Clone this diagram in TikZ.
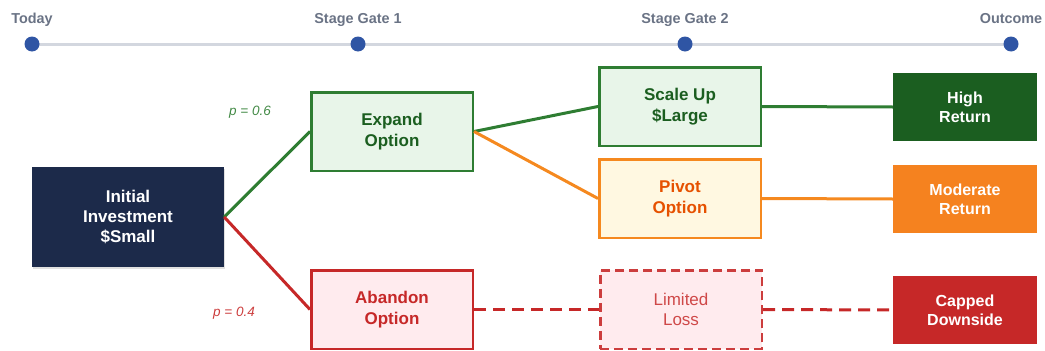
\documentclass[tikz,border=0pt]{standalone}
\usepackage{fontspec}
\setmainfont{Liberation Sans}

\definecolor{navy}{HTML}{1C2A4A}
\definecolor{gline}{HTML}{2E7D32}
\definecolor{gfill}{HTML}{E8F5E9}
\definecolor{gtext}{HTML}{1B5E20}
\definecolor{gdark}{HTML}{1B5E20}
\definecolor{oline}{HTML}{F5891F}
\definecolor{ofill}{HTML}{FFF8E1}
\definecolor{otext}{HTML}{E65100}
\definecolor{odark}{HTML}{F5821F}
\definecolor{rline}{HTML}{C62828}
\definecolor{rfill}{HTML}{FFEBEE}
\definecolor{rdark}{HTML}{C62828}
\definecolor{tdot}{HTML}{2F55A4}
\definecolor{tline}{HTML}{D3D7DF}
\definecolor{tlabel}{HTML}{6A7385}

\tikzset{
  x=1pt, y=-1pt,
  bigfont/.style={font=\bfseries\fontsize{17}{20.4}\selectfont},
  tldot/.style={circle, fill=tdot, minimum size=15pt, inner sep=0pt},
  tllabel/.style={anchor=base, text=tlabel, font=\bfseries\fontsize{14.4}{17}\selectfont},
  optbox/.style={rectangle, minimum width=161.5pt, minimum height=78.5pt,
    line width=2.5pt, align=center, inner sep=0pt, bigfont},
  greenbox/.style={optbox, draw=gline, fill=gfill, text=gtext},
  orangebox/.style={optbox, draw=oline, fill=ofill, text=otext},
  redbox/.style={optbox, draw=rline, fill=rfill, text=rline},
  lossbox/.style={optbox, draw=rline!90, fill=rfill, text=rline!85,
    dash pattern=on 9pt off 5pt, font=\fontsize{17}{20.4}\selectfont},
  outbox/.style={rectangle, minimum width=144pt, minimum height=68pt,
    align=center, inner sep=0pt, text=white,
    font=\bfseries\fontsize{16}{19.2}\selectfont},
  link/.style={line width=3pt},
  dashlink/.style={line width=3pt, draw=rline, dash pattern=on 12pt off 7pt},
  problabel/.style={font=\itshape\fontsize{13.5}{16}\selectfont},
}

\begin{document}
\begin{tikzpicture}
\useasboundingbox (0,0) rectangle (1045,351);

% timeline: gates along a grey rail
\coordinate (r0) at (32,44);
\coordinate (r3) at (1011,44);
\draw[tline, line width=3pt] (r0) -- (r3);
\node[tldot] (t0) at (32,44) {};
\node[tldot] (t1) at (358,44) {};
\node[tldot] (t2) at (685,44) {};
\node[tldot] (t3) at (1011,44) {};
\node[tllabel] (l0) at (32,23) {Today};
\node[tllabel] (l1) at (358,23) {Stage Gate 1};
\node[tllabel] (l2) at (685,23) {Stage Gate 2};
\node[tllabel] (l3) at (1011,23) {Outcome};

% initial investment, with a soft drop shadow
\fill[black, opacity=0.12] (33,169) rectangle (225,269);
\node[rectangle, fill=navy, text=white, minimum width=192pt, minimum height=100pt,
  align=center, inner sep=0pt, bigfont] (init) at (128,217)
  {Initial\\Investment\\\$Small};

% stage gate 1
\node[greenbox] (expand) at (392,131.5) {Expand\\Option};
\node[redbox] (abandon) at (392,309.5) {Abandon\\Option};

% stage gate 2
\node[greenbox] (scale) at (680,106.5) {Scale Up\\\$Large};
\node[orangebox] (pivot) at (680,198.5) {Pivot\\Option};
\node[lossbox] (limited) at (681,309.5) {Limited\\Loss};

% outcomes
\node[outbox, fill=gdark] (high) at (965,107) {High\\Return};
\node[outbox, fill=odark] (moderate) at (965,199) {Moderate\\Return};
\node[outbox, fill=rdark] (capped) at (965,310) {Capped\\Downside};

% connectors
\draw[link, gline] (init.east) -- (expand.west);
\draw[link, rline] (init.east) -- (abandon.west);
\draw[link, gline] (expand.east) -- (scale.west);
\draw[link, oline] (expand.east) -- (pivot.west);
\draw[link, gline] (scale.east) -- (high.west);
\draw[link, oline] (pivot.east) -- (moderate.west);
\draw[dashlink] (abandon.east) -- (limited.west);
\draw[dashlink] (limited.east) -- (capped.west);

% probabilities
\node[problabel, text=gline!90!white] (p1) at (250,112) {p = 0.6};
\node[problabel, text=rline!90!white] (p2) at (234,313) {p = 0.4};
\end{tikzpicture}
\end{document}
